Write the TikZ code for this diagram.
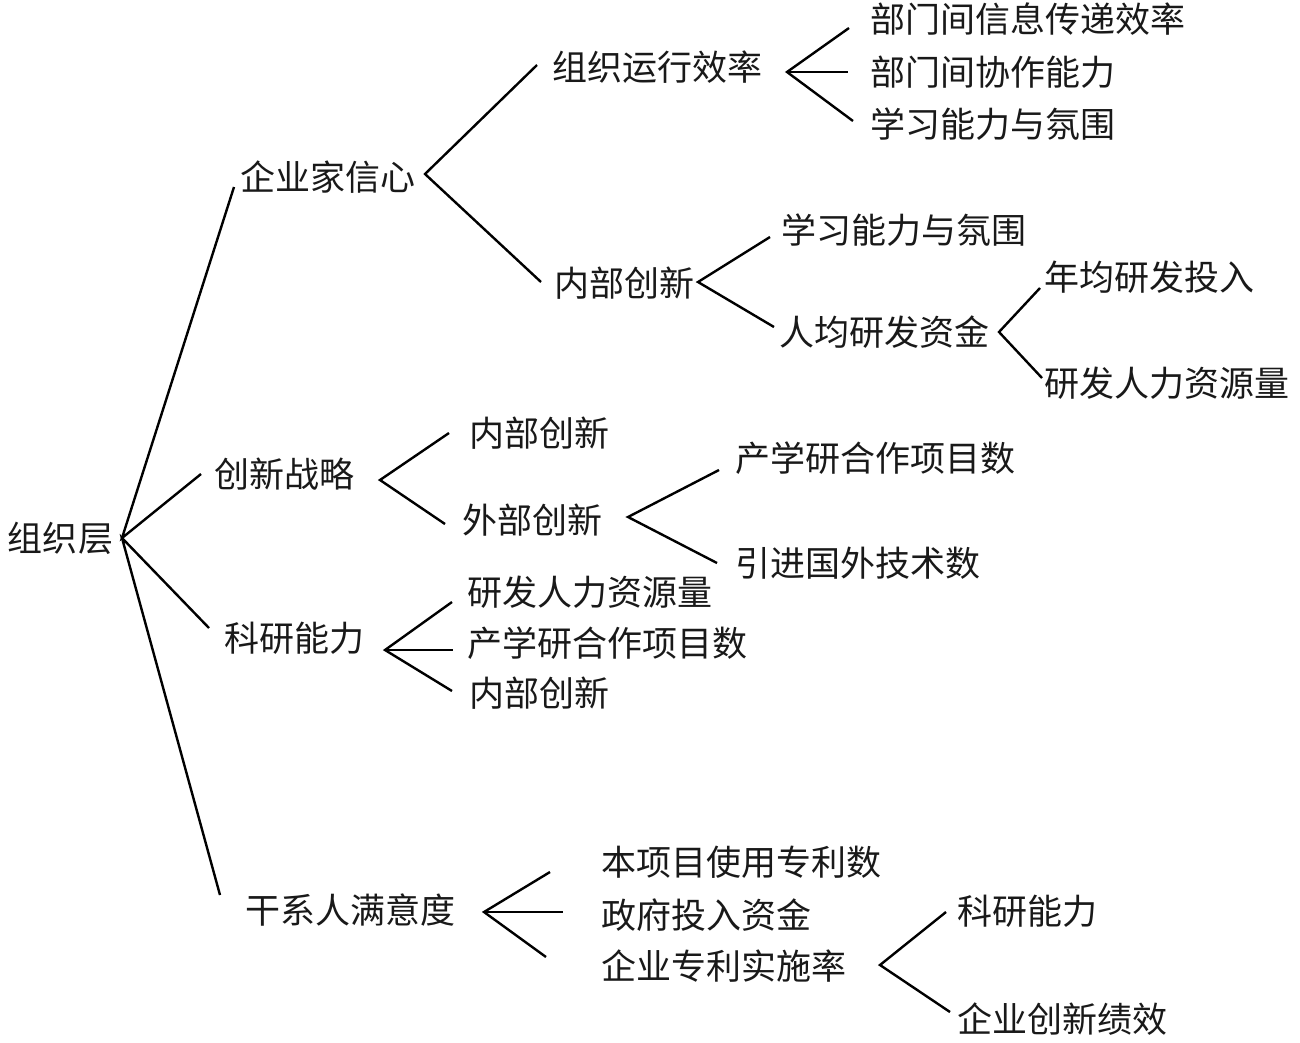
\documentclass[tikz,border=0pt]{standalone}
\usepackage{fontspec}
\newfontfamily\cjk{Noto Sans CJK SC}
\usetikzlibrary{calc}
\begin{document}
\begin{tikzpicture}[x=1pt,y=-1pt,
  lbl/.style={anchor=west,inner sep=0pt,outer sep=0pt,font=\cjk\fontsize{35}{40}\selectfont,text=black!90},
  conn/.style={draw=black,line width=2.4pt}]
\useasboundingbox (0,0) rectangle (1300,1042);
% nodes
\node[lbl] (n0) at (8,538) {组织层};
\node[lbl] (a1) at (240,177) {企业家信心};
\node[lbl] (a2) at (214,474) {创新战略};
\node[lbl] (a3) at (224,638) {科研能力};
\node[lbl] (a4) at (245,910) {干系人满意度};
\node[lbl] (b1) at (552,67) {组织运行效率};
\node[lbl] (b2) at (554,283) {内部创新};
\node[lbl] (c1) at (870,19) {部门间信息传递效率};
\node[lbl] (c2) at (870,72) {部门间协作能力};
\node[lbl] (c3) at (870,124) {学习能力与氛围};
\node[lbl] (d1) at (781,230) {学习能力与氛围};
\node[lbl] (d2) at (779,332) {人均研发资金};
\node[lbl] (e1) at (1044,277) {年均研发投入};
\node[lbl] (e2) at (1044,383) {研发人力资源量};
\node[lbl] (f1) at (469,433) {内部创新};
\node[lbl] (f2) at (462,520) {外部创新};
\node[lbl] (g1) at (735,458) {产学研合作项目数};
\node[lbl] (g2) at (735,563) {引进国外技术数};
\node[lbl] (h1) at (467,592) {研发人力资源量};
\node[lbl] (h2) at (467,643) {产学研合作项目数};
\node[lbl] (h3) at (469,693) {内部创新};
\node[lbl] (i1) at (601,862) {本项目使用专利数};
\node[lbl] (i2) at (601,915) {政府投入资金};
\node[lbl] (i3) at (601,966) {企业专利实施率};
\node[lbl] (k1) at (957,911) {科研能力};
\node[lbl] (k2) at (957,1019) {企业创新绩效};
% junctions
\coordinate (j0) at (122,538);
\coordinate (ja1) at (425,174);
\coordinate (jb1) at (787,72);
\coordinate (jb2) at (698,282);
\coordinate (jd2) at (999,332);
\coordinate (ja2) at (380,480);
\coordinate (jf2) at (628,517);
\coordinate (ja3) at (385,650);
\coordinate (ja4) at (484,912);
\coordinate (ji3) at (880,965);
% connectors
\draw[conn] ($(a1.west)+(-6,10)$) -- (j0) -- ($(a2.west)+(-13,0)$);
\draw[conn] ($(a3.west)+(-15,-10)$) -- (j0) -- ($(a4.west)+(-25,-15)$);
\draw[conn] ($(b1.west)+(-15,-2)$) -- (ja1) -- ($(b2.west)+(-13,-1)$);
\draw[conn] ($(c1.west)+(-21,9)$) -- (jb1) -- ($(c3.west)+(-17,-3)$);
\draw[conn] (jb1) -- ($(c2.west)+(-22,0)$);
\draw[conn] ($(d1.west)+(-11,7)$) -- (jb2) -- ($(d2.west)+(-5,-5)$);
\draw[conn] ($(e1.west)+(-4,11)$) -- (jd2) -- ($(e2.west)+(-2,-5)$);
\draw[conn] ($(f1.west)+(-20,0)$) -- (ja2) -- ($(f2.west)+(-17,4)$);
\draw[conn] ($(g1.west)+(-16,12)$) -- (jf2) -- ($(g2.west)+(-18,0)$);
\draw[conn] ($(h1.west)+(-15,10)$) -- (ja3) -- ($(h3.west)+(-17,-2)$);
\draw[conn] (ja3) -- ($(h2.west)+(-14,7)$);
\draw[conn] ($(i1.west)+(-51,10)$) -- (ja4) -- ($(i3.west)+(-55,-9)$);
\draw[conn] (ja4) -- ($(i2.west)+(-38,-3)$);
\draw[conn] ($(k1.west)+(-11,1)$) -- (ji3) -- ($(k2.west)+(-7,-7)$);
\end{tikzpicture}
\end{document}
